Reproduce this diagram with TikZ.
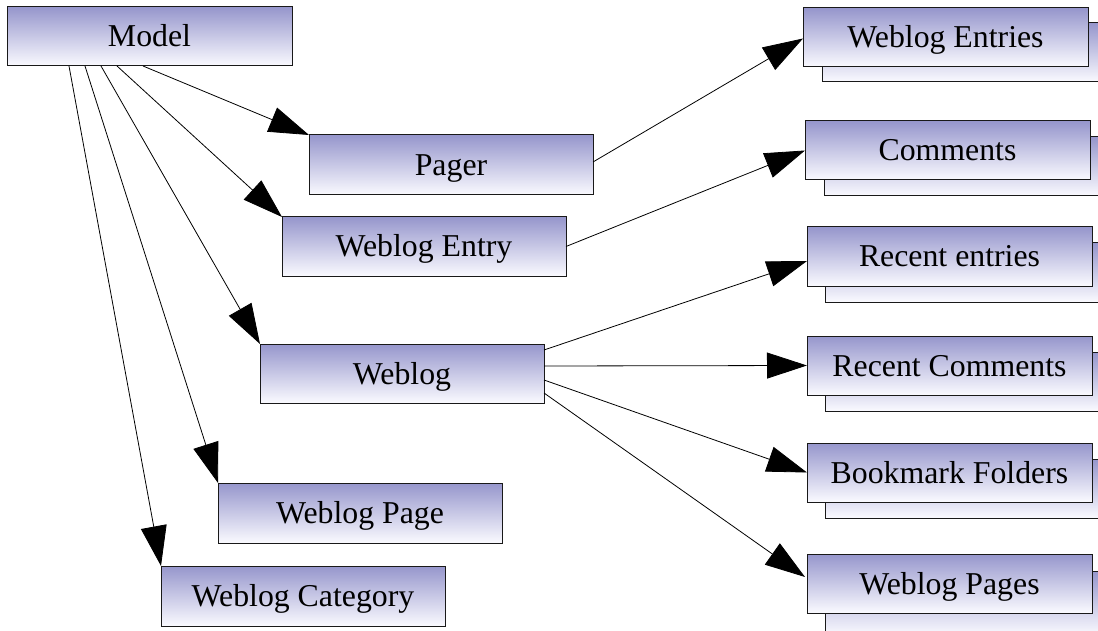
\documentclass[tikz,border=0pt]{standalone}
\usepackage{fontspec}
\setmainfont{Liberation Serif}
\usetikzlibrary{arrows.meta,calc}
\definecolor{boxtop}{RGB}{150,150,204}
\definecolor{boxbot}{RGB}{250,250,255}
\tikzset{
  boxst/.style={draw=black!90, line width=1pt, top color=boxtop, bottom color=boxbot,
    minimum width=285pt, minimum height=59pt, inner sep=0pt, outer sep=0pt,
    text height=21pt, text depth=0pt,
    anchor=north west, font=\fontsize{31.8}{36}\selectfont},
  backst/.style={boxst},
  conn/.style={draw=black, line width=0.8pt, -{Triangle[length=40pt,width=26pt]}}
}
\begin{document}
\begin{tikzpicture}[x=1pt,y=-1pt]
\useasboundingbox (0,0) rectangle (1098,631);
% left / middle boxes
\node[boxst] (model) at (7,7) {Model};
\node[boxst, minimum width=284pt, minimum height=60pt] (pager) at (309,135) {Pager};
\node[boxst, minimum width=284pt] (entry) at (282,217) {Weblog Entry};
\node[boxst, minimum width=284pt] (weblog) at (260,344) {Weblog};
\node[boxst, minimum width=284pt, minimum height=60pt] (page) at (218,483) {Weblog Page};
\node[boxst, minimum width=284pt, minimum height=60pt] (cat) at (161,566) {Weblog Category};
% right stacked boxes (back)
\node[backst] (entriesB) at (822,23) {};
\node[backst] (commentsB) at (824,137) {};
\node[backst] (recentB) at (825,243) {};
\node[backst] (rcommB) at (825,352) {};
\node[backst] (bookB) at (825,459) {};
\node[backst, minimum height=64pt] (pagesB) at (825,571) {};
% right stacked boxes (front)
\node[boxst] (entries) at (803,8) {Weblog Entries};
\node[boxst] (comments) at (805,121) {Comments};
\node[boxst] (recent) at (807,227) {Recent entries};
\node[boxst] (rcomm) at (807,336) {Recent Comments};
\node[boxst] (book) at (807,443) {Bookmark Folders};
\node[boxst] (pages) at (807,554) {Weblog Pages};
% connectors from Model
\draw[conn] ([xshift=62pt]model.south west) -- (cat.north west);
\draw[conn] ([xshift=78pt]model.south west) -- (page.north west);
\draw[conn] ([xshift=94pt]model.south west) -- (weblog.north west);
\draw[conn] ([xshift=110pt]model.south west) -- (entry.north west);
\draw[conn] ([xshift=136pt]model.south west) -- (pager.north west);
% connectors to the right
\draw[conn] ([yshift=3pt]pager.east) -- ([yshift=-1pt]entries.west);
\draw[conn] (entry.east) -- (comments.west);
\draw[conn] ([yshift=23.5pt]weblog.east) -- ([yshift=-4.5pt]recent.west);
\draw[conn] ([yshift=7.5pt]weblog.east) -- (rcomm.west);
\draw[conn] ([yshift=-6.5pt]weblog.east) -- (book.west);
\draw[conn] ([yshift=-19.5pt]weblog.east) -- ([yshift=6.5pt,xshift=-2pt]pages.west);
\end{tikzpicture}
\end{document}
